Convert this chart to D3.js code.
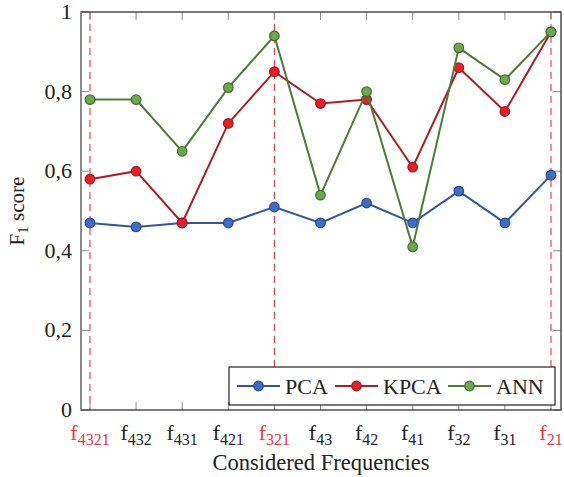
<!DOCTYPE html>
<html lang="en">
<head>
  <meta charset="UTF-8">
  <script src="https://d3js.org/d3.v7.min.js"></script>
  <title>F1 score per considered frequencies</title>
  <style>
    body { margin: 0; background: white; }
  </style>
</head>
<body>
<div id="chart"></div>
<script>
  // subscripts of the frequency labels f_xxx
  var freqs = ["4321", "432", "431", "421", "321", "43", "42", "41", "32", "31", "21"];
  var highlighted = ["4321", "321", "21"];
  var pca  = [0.47, 0.46, 0.47, 0.47, 0.51, 0.47, 0.52, 0.47, 0.55, 0.47, 0.59];
  var kpca = [0.58, 0.60, 0.47, 0.72, 0.85, 0.77, 0.78, 0.61, 0.86, 0.75, 0.95];
  var ann  = [0.78, 0.78, 0.65, 0.81, 0.94, 0.54, 0.80, 0.41, 0.91, 0.83, 0.95];
  var yTicks = [0, 0.2, 0.4, 0.6, 0.8, 1];

  var series = [
    { name: "PCA",  values: pca,  line: "#3553a8", fill: "#3f6cc4", stroke: "#2c4a94" },
    { name: "KPCA", values: kpca, line: "#b01c22", fill: "#e3202a", stroke: "#a0161c" },
    { name: "ANN",  values: ann,  line: "#4f7a3a", fill: "#6fa651", stroke: "#466f33" }
  ];

  var W = 564, H = 477;
  var margin = { top: 12, right: 3, bottom: 67, left: 81 };
  var width = W - margin.left - margin.right,
      height = H - margin.top - margin.bottom;
  var serif = "'Liberation Serif', 'Times New Roman', 'DejaVu Serif', serif";

  var svg = d3.select("#chart").append("svg")
    .attr("width", W).attr("height", H)
    .attr("font-family", serif)
    .style("font-family", serif)
    .append("g")
    .attr("transform", "translate(" + margin.left + "," + margin.top + ")");

  var x = d3.scalePoint().domain(freqs).range([9, width - 10]);
  var y = d3.scaleLinear().domain([0, 1]).range([height, 0]);

  var fmt = function (d) { return d === 0 || d === 1 ? String(d) : d.toFixed(1).replace(".", ","); };

  // red dashed reference lines
  svg.selectAll(".ref")
    .data(highlighted)
    .enter().append("line")
    .attr("x1", d => x(d)).attr("x2", d => x(d))
    .attr("y1", 0).attr("y2", height)
    .attr("stroke", "#f0343c").attr("stroke-width", 1.1)
    .attr("stroke-dasharray", "7,5");

  // inward ticks on all four sides
  var axisColor = "#8a8a8a";
  var tickLen = 8;
  svg.selectAll(".xt")
    .data(freqs)
    .enter().append("path")
    .attr("d", d => "M" + x(d) + "," + height + "v" + (-tickLen) + "M" + x(d) + ",0v" + tickLen)
    .attr("stroke", axisColor).attr("stroke-width", 1);
  svg.selectAll(".yt")
    .data(yTicks)
    .enter().append("path")
    .attr("d", d => "M0," + y(d) + "h" + tickLen + "M" + width + "," + y(d) + "h" + (-tickLen))
    .attr("stroke", axisColor).attr("stroke-width", 1);

  // y tick labels
  svg.selectAll(".yl")
    .data(yTicks)
    .enter().append("text")
    .attr("x", -9).attr("y", d => y(d))
    .attr("dy", "0.32em")
    .attr("text-anchor", "end")
    .attr("font-size", 22)
    .attr("fill", "#222")
    .text(fmt);

  // x tick labels with subscripts
  var xl = svg.selectAll(".xl")
    .data(freqs)
    .enter().append("text")
    .attr("x", d => x(d)).attr("y", height + 30)
    .attr("text-anchor", "middle")
    .attr("font-size", 22)
    .attr("fill", d => highlighted.includes(d) ? "#f0343c" : "#222");
  xl.append("tspan").text("f");
  xl.append("tspan").attr("font-size", 16).attr("dy", 5).text(d => d);

  // lines and markers
  var line = d3.line()
    .x((d, i) => x(freqs[i]))
    .y(d => y(d));

  series.forEach(function (s) {
    svg.append("path")
      .datum(s.values)
      .attr("fill", "none")
      .attr("stroke", s.line)
      .attr("stroke-width", 2)
      .attr("d", line);
    svg.selectAll(".m-" + s.name)
      .data(s.values)
      .enter().append("circle")
      .attr("cx", (d, i) => x(freqs[i]))
      .attr("cy", d => y(d))
      .attr("r", 4.8)
      .attr("fill", s.fill)
      .attr("stroke", s.stroke)
      .attr("stroke-width", 1.2);
  });

  // frame
  svg.append("rect")
    .attr("width", width).attr("height", height)
    .attr("fill", "none")
    .attr("stroke", "#333").attr("stroke-width", 1.3);
  svg.append("line").attr("x1", 0).attr("x2", 0).attr("y1", 0).attr("y2", height)
    .attr("stroke", axisColor).attr("stroke-width", 2);

  // legend
  var lg = svg.append("g").attr("transform", "translate(" + (229 - margin.left) + "," + (367 - margin.top) + ")");
  lg.append("rect").attr("width", 326).attr("height", 38)
    .attr("fill", "white").attr("stroke", "#222").attr("stroke-width", 1.2);
  var offs = [8, 106, 219];
  series.forEach(function (s, i) {
    var g = lg.append("g").attr("transform", "translate(" + offs[i] + ",19)");
    g.append("line").attr("x1", 0).attr("x2", 43)
      .attr("stroke", s.line).attr("stroke-width", 2);
    g.append("circle").attr("cx", 21.5).attr("r", 4.8)
      .attr("fill", s.fill).attr("stroke", s.stroke).attr("stroke-width", 1.2);
    g.append("text").attr("x", 48).attr("dy", "0.35em")
      .attr("font-size", 22).attr("fill", "#222").text(s.name);
  });

  // axis titles
  svg.append("text")
    .attr("x", width / 2).attr("y", height + 60)
    .attr("text-anchor", "middle")
    .attr("font-size", 22.5)
    .attr("fill", "#222")
    .text("Considered Frequencies");

  var yt = svg.append("text")
    .attr("transform", "translate(" + (-57) + "," + (height / 2) + ") rotate(-90)")
    .attr("text-anchor", "middle")
    .attr("font-size", 21)
    .attr("fill", "#222");
  yt.append("tspan").text("F");
  yt.append("tspan").attr("font-size", 15).attr("dy", 4).text("1");
  yt.append("tspan").attr("dy", -4).text(" score");
</script>
</body>
</html>
